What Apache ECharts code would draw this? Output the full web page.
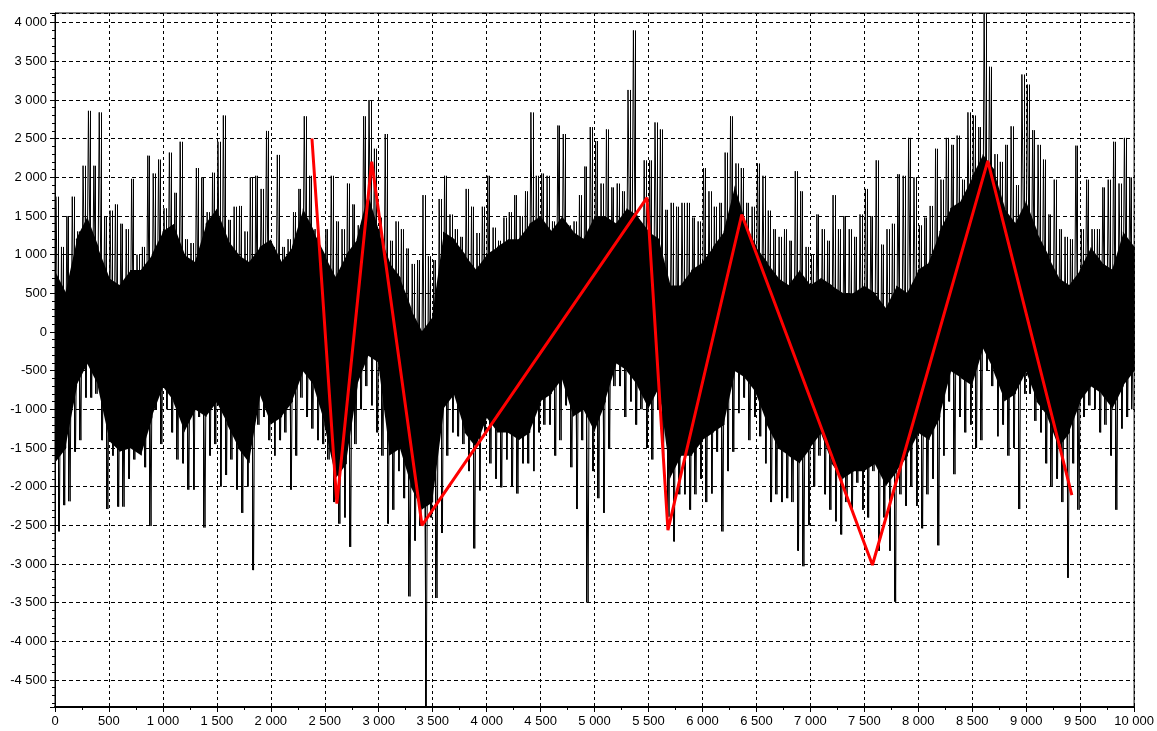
<!DOCTYPE html>
<html>
<head>
<meta charset="utf-8">
<script src="https://cdn.jsdelivr.net/npm/echarts@6/dist/echarts.min.js"></script>
<style>
html,body{margin:0;padding:0;background:#fff;}
#chart{width:1157px;height:731px;}
</style>
</head>
<body>
<div id="chart"></div>
<script>
// Signal extremes per 50-unit bin (x = 0..10000): upper tips and lower tips
const binWidth = 50;
const signalTops = [
 1750,1100,1500,1750,1300,2150,2860,2150,2840,1500, 1570,1650,1400,1330,1980,1000,1100,2280,2050,2230,
 1600,2320,1800,2460,1200,1150,2120,2000,1550,2060, 2460,2800,1450,1620,1630,1300,2000,2020,1850,2600,
 1100,2290,1100,1200,1550,1850,2790,2020,1330,830, 1330,2020,1430,1330,1920,1650,1380,2790,3000,2370,
 1480,2560,1180,1430,1330,1080,880,930,1770,980, 930,1720,2020,1520,1330,1230,1850,1620,1280,1620,
 2020,1350,1180,1480,1550,1770,1500,1820,2840,2020, 2050,2020,1430,2670,2560,1380,1430,1770,2140,2650,
 2470,1920,2620,1870,1920,1820,3130,3900,1380,2220, 2220,2710,2620,1580,1670,1620,1670,1670,1480,1430,
 2120,1820,1620,1670,2320,2790,2180,2120,1670,1620, 2180,2020,1570,1330,1230,1330,1180,2080,1820,1100,
 1000,1520,1330,1180,1770,1330,1500,1330,1230,1520, 1850,1500,2220,1130,1330,1400,2040,2020,2510,2000,
 1380,1480,1630,2370,1970,2510,2420,2540,1970,2840, 2800,2650,4125,3430,2300,2200,2420,2660,1900,3330,
 3200,2610,2420,2230,1520,1970,1330,1230,1200,2410, 1330,1970,1330,1330,1870,1970,2460,1920,2510,2000
];
const signalBottoms = [
 -2580,-2240,-2190,-1550,-1400,-850,-850,-800,-1400,-2290, -1600,-2260,-2260,-1900,-1650,-1450,-1750,-2510,-1000,-1450,
 -1000,-1300,-1650,-1700,-2040,-2040,-1100,-2530,-1600,-1450, -2000,-1850,-1650,-2040,-2340,-2000,-3080,-1200,-1100,-1400,
 -1600,-1400,-1300,-2040,-1600,-850,-1100,-1250,-1400,-1450, -1650,-2200,-2480,-2400,-2780,-1450,-1000,-700,-950,-1300,
 -1600,-2480,-2300,-1800,-2150,-3420,-2700,-2500,-4850,-2400, -3440,-2600,-1600,-1300,-1350,-1450,-1800,-2800,-2050,-1300,
 -1700,-1900,-2010,-1650,-2000,-2090,-1700,-1700,-1800,-1300, -1200,-1200,-1600,-1400,-950,-1750,-2290,-1400,-3500,-1800,
 -2150,-2340,-1500,-700,-700,-1100,-900,-1200,-1000,-1500, -1650,-1000,-1600,-2390,-2710,-2100,-2100,-2300,-2100,-1900,
 -2200,-2090,-1550,-2580,-1800,-1550,-1050,-850,-1400,-1100, -1350,-1700,-2200,-2100,-2200,-2150,-2200,-2830,-3030,-2500,
 -2000,-1600,-2100,-2300,-2450,-2620,-2200,-2300,-1950,-2300, -2400,-1800,-2830,-2400,-2830,-3490,-2100,-2250,-2000,-2250,
 -2540,-2100,-1900,-2760,-1600,-900,-1840,-1100,-1300,-1200, -1500,-1400,-500,-700,-1350,-1200,-1600,-1500,-2290,-800,
 -800,-1150,-1300,-1700,-2000,-1900,-2200,-3180,-1700,-2300, -1100,-950,-1000,-1300,-1200,-1600,-2300,-1250,-1100,-1000
];
// Dense core of the signal, every 100 units (x = 0..10000)
const coreStep = 100;
const coreHigh = [
 800,500,1200,1500,1100,700,600,800,800,1000,1300,1400,1000,900,1400,1600,1200,1000,900,1100,
 1200,900,1100,1600,1300,1000,700,1000,1200,1800,1300,900,700,300,0,200,1300,1200,1000,800,
 1000,1100,1200,1200,1400,1500,1300,1500,1300,1200,1500,1500,1400,1600,1500,1300,1200,600,600,800,
 900,1100,1300,1900,1400,1100,900,700,600,800,600,700,600,500,500,600,500,300,600,500,
 800,900,1300,1600,1700,2000,2300,2100,1600,1400,1700,1300,1000,700,600,800,1100,900,800,1300,1100
];
const coreLow = [
 -1700,-1500,-700,-400,-700,-1400,-1550,-1500,-1600,-1100,-700,-900,-1300,-1000,-1100,-900,-1200,-1500,-1700,-800,
 -1200,-1100,-900,-500,-700,-1200,-1900,-1700,-700,-300,-400,-1600,-1500,-2000,-2300,-2200,-1000,-800,-1300,-1500,
 -1100,-1300,-1300,-1400,-1300,-900,-800,-600,-1100,-1000,-1300,-900,-400,-500,-700,-1000,-700,-1900,-1600,-1600,
 -1400,-1300,-1200,-500,-600,-800,-1200,-1500,-1600,-1700,-1500,-1300,-1700,-1900,-1800,-1800,-1700,-2000,-1800,-1600,
 -1300,-1400,-1100,-500,-600,-700,-200,-500,-900,-800,-500,-900,-1100,-1500,-1300,-900,-700,-800,-1000,-700,-500
];
// Red zig-zag
const redX = [2381, 2612, 2935, 3401, 5486, 5680, 6364, 7575, 8644, 9423];
const redY = [2502, -2219, 2201, -2502, 1737, -2562, 1519, -3014, 2213, -2110];
// Axes
const xMin = 0, xMax = 10000, xStep = 500;
const yMin = -4850, yMax = 4125, yStep = 500;

function fmt(v) {
  const n = Math.round(v);
  const s = Math.abs(n).toString();
  const t = s.length > 3 ? s.slice(0, -3) + ' ' + s.slice(-3) : s;
  return (n < 0 ? '-' : '') + t;
}

const noiseData = [];
const rangeData = [];
for (let i = 0; i < signalTops.length; i++) {
  noiseData.push([i * binWidth + binWidth * 0.2, signalTops[i]]);
  noiseData.push([i * binWidth + binWidth * 0.8, signalBottoms[i]]);
  rangeData.push([i * binWidth + binWidth * 0.5, signalTops[i], signalBottoms[i]]);
}
// band segments: [x0, hi0, lo0, x1, hi1, lo1]
const coreSegments = [];
for (let i = 0; i < coreHigh.length - 1; i++) {
  coreSegments.push([i * coreStep, coreHigh[i], coreLow[i], (i + 1) * coreStep, coreHigh[i + 1], coreLow[i + 1]]);
}
const redData = redX.map((x, i) => [x, redY[i]]);

const chart = echarts.init(document.getElementById('chart'), null, {renderer: 'canvas'});
const labelFont = {color: '#000', fontFamily: 'Liberation Sans, Arial, sans-serif', fontSize: 13};
chart.setOption({
  animation: false,
  backgroundColor: '#fff',
  grid: {left: 55, right: 20, top: 13, bottom: 24, show: true, borderColor: '#000', borderWidth: 1, backgroundColor: 'transparent'},
  xAxis: {
    type: 'value', min: xMin, max: xMax, interval: xStep,
    axisLine: {show: true, onZero: false, lineStyle: {color: '#000', width: 2}},
    axisTick: {show: true, length: 5, lineStyle: {color: '#000'}},
    minorTick: {show: true, splitNumber: 2, length: 3, lineStyle: {color: '#000'}},
    axisLabel: Object.assign({margin: 8, formatter: fmt}, labelFont),
    splitLine: {show: true, lineStyle: {color: '#000', type: [3, 3], width: 1}}
  },
  yAxis: {
    type: 'value', min: yMin, max: yMax, splitNumber: 18, minInterval: yStep, maxInterval: yStep,
    axisLine: {show: true, onZero: false, lineStyle: {color: '#000', width: 1}},
    axisTick: {show: true, length: 5, lineStyle: {color: '#000'}},
    minorTick: {show: true, splitNumber: 5, length: 3, lineStyle: {color: '#000'}},
    axisLabel: Object.assign({margin: 8, formatter: fmt, showMinLabel: false, showMaxLabel: false}, labelFont),
    splitLine: {show: true, lineStyle: {color: '#000', type: [4, 3], width: 1}}
  },
  series: [
    {
      type: 'custom', data: coreSegments, silent: true, z: 2, clip: true,
      encode: {x: [0, 3], y: [1, 2, 4, 5]},
      renderItem: function (params, api) {
        const a = api.coord([api.value(0), api.value(1)]);
        const b = api.coord([api.value(3), api.value(4)]);
        const c = api.coord([api.value(3), api.value(5)]);
        const d = api.coord([api.value(0), api.value(2)]);
        return {
          type: 'polygon',
          shape: {points: [[a[0] - 0.5, a[1]], [b[0] + 0.5, b[1]], [c[0] + 0.5, c[1]], [d[0] - 0.5, d[1]]]},
          style: {fill: '#000', stroke: null}
        };
      }
    },
    {
      type: 'custom', data: rangeData, silent: true, z: 3, clip: true,
      encode: {x: 0, y: [1, 2]},
      renderItem: function (params, api) {
        const t = api.coord([api.value(0), api.value(1)]);
        const b = api.coord([api.value(0), api.value(2)]);
        return {
          type: 'line',
          shape: {x1: Math.round(t[0]) + 0.5, y1: t[1], x2: Math.round(b[0]) + 0.5, y2: b[1]},
          style: {stroke: '#000', lineWidth: 1}
        };
      }
    },
    {
      type: 'line', data: noiseData, symbol: 'none', sampling: null,
      lineStyle: {color: '#000', width: 1}, silent: true, z: 3
    },
    {
      type: 'line', data: redData, symbol: 'none',
      lineStyle: {color: '#ff0000', width: 3}, silent: true, z: 5,
      markLine: {silent: true, symbol: 'none', label: {show: false},
        lineStyle: {color: '#000', type: 'solid', width: 1}, data: [{yAxis: 0}]}
    }
  ]
});
</script>
</body>
</html>
